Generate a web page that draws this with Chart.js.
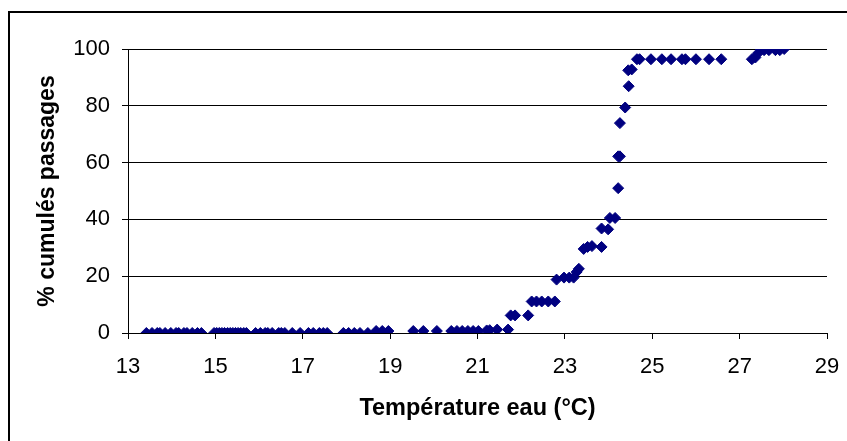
<!DOCTYPE html>
<html>
<head>
<meta charset="utf-8">
<script src="https://cdn.jsdelivr.net/npm/chart.js@4/dist/chart.umd.min.js"></script>
<style>
  html, body { margin: 0; padding: 0; background: #fff; overflow: hidden; }
  #wrap { position: relative; width: 847px; height: 441px; }
  #frame { position: absolute; left: 8px; top: 11px; width: 900px; height: 500px;
           border: 2px solid #000; box-sizing: border-box; pointer-events: none; }
  canvas { position: absolute; left: 0; top: 0; }
</style>
</head>
<body>
<div id="wrap">
  <canvas id="c" width="847" height="441"></canvas>
  <div id="frame"></div>
</div>
<script>
// Water temperature (°C) at each passage and the cumulative share of passages (%)
const temperatures = [
  13.42, 13.55, 13.67, 13.73, 13.85, 13.98, 14.10, 14.16, 14.28, 14.35, 14.47, 14.59, 14.68,
  14.97, 15.03, 15.09, 15.15, 15.21, 15.28, 15.34, 15.40, 15.46, 15.52, 15.58, 15.65, 15.71,
  15.92, 16.03, 16.14, 16.20, 16.30, 16.45, 16.51, 16.59, 16.76, 16.94, 17.13, 17.24, 17.38,
  17.47, 17.56, 17.93, 18.05, 18.18, 18.31, 18.49,
  18.68, 18.82, 18.96, 19.53, 19.76, 20.07, 20.40, 20.53, 20.65, 20.78, 20.90, 21.02,
  21.21, 21.28, 21.45, 21.70,
  21.76, 21.86, 22.16,
  22.24, 22.35, 22.47, 22.62, 22.77,
  22.81, 22.98, 23.10, 23.20, 23.27, 23.32,
  23.43, 23.52, 23.62, 23.84, 23.84, 23.99, 24.03, 24.15,
  24.22, 24.22, 24.26, 24.26, 24.38, 24.46, 24.45, 24.53,
  24.65, 24.71, 24.97, 25.22, 25.43, 25.68, 25.76, 26.00, 26.30, 26.58,
  27.28, 27.36, 27.42, 27.48, 27.56, 27.67, 27.82, 27.92, 28.02
];
const cumulativePct = [
  0, 0, 0, 0, 0, 0, 0, 0, 0, 0, 0, 0, 0,
  0, 0, 0, 0, 0, 0, 0, 0, 0, 0, 0, 0, 0,
  0, 0, 0, 0, 0, 0, 0, 0, 0, 0, 0, 0, 0,
  0, 0, 0, 0, 0, 0, 0,
  0.7, 0.7, 0.7, 0.7, 0.7, 0.7, 0.7, 0.7, 0.7, 0.7, 0.7, 0.7,
  0.9, 1.0, 1.2, 1.2,
  6.2, 6.2, 6.2,
  11.1, 11.1, 11.1, 11.1, 11.1,
  18.8, 19.5, 19.5, 19.5, 21.5, 22.6,
  29.6, 30.3, 30.6, 30.3, 36.8, 36.5, 40.5, 40.5,
  51.0, 62.2, 62.2, 73.9, 79.4, 86.9, 92.5, 92.8,
  96.4, 96.4, 96.4, 96.4, 96.4, 96.4, 96.4, 96.4, 96.4, 96.4,
  96.4, 97.0, 98.5, 100, 99.6, 99.6, 99.6, 99.6, 100
];
const xTicks = [13, 15, 17, 19, 21, 23, 25, 27, 29];
const yTicks = [0, 20, 40, 60, 80, 100];
const xTitle = 'Température eau (°C)';
const yTitle = '% cumulés passages';

const points = temperatures.map((t, i) => ({ x: t, y: cumulativePct[i] }));
const FONT = "'Liberation Sans', Arial, sans-serif";

new Chart(document.getElementById('c'), {
  type: 'scatter',
  data: {
    datasets: [{
      data: points,
      pointStyle: 'rectRot',
      pointRadius: 5.5,
      pointBackgroundColor: '#000080',
      pointBorderColor: '#000080',
      pointBorderWidth: 1
    }]
  },
  options: {
    responsive: false,
    animation: false,
    layout: { padding: { left: 0, right: 20, top: 49, bottom: 0 } },
    plugins: { legend: { display: false }, tooltip: { enabled: false } },
    scales: {
      x: {
        type: 'linear',
        min: 13, max: 29,
        afterBuildTicks: s => { s.ticks = xTicks.map(v => ({ value: v })); },
        afterFit: s => { s.height = 108; s.paddingLeft = 0; s.paddingRight = 0; },
        ticks: { color: '#000', font: { family: FONT, size: 22 }, padding: 15, maxRotation: 0 },
        grid: { drawOnChartArea: false, tickLength: 6, color: '#000' },
        border: { color: '#000', width: 1 },
        title: { display: true, text: xTitle, color: '#000',
                 font: { family: FONT, size: 23.5, weight: 'bold' }, padding: { top: 0, bottom: 18 } }
      },
      y: {
        type: 'linear',
        min: 0, max: 100,
        afterBuildTicks: s => { s.ticks = yTicks.map(v => ({ value: v })); },
        afterFit: s => { s.width = 128; },
        ticks: { color: '#000', font: { family: FONT, size: 22 }, padding: 12 },
        grid: { color: '#000', tickLength: 6, lineWidth: 1 },
        border: { color: '#000', width: 1 },
        title: { display: true, text: yTitle, color: '#000',
                 font: { family: FONT, size: 23, weight: 'bold' }, padding: { top: 34, bottom: 0 } }
      }
    }
  }
});
</script>
</body>
</html>
